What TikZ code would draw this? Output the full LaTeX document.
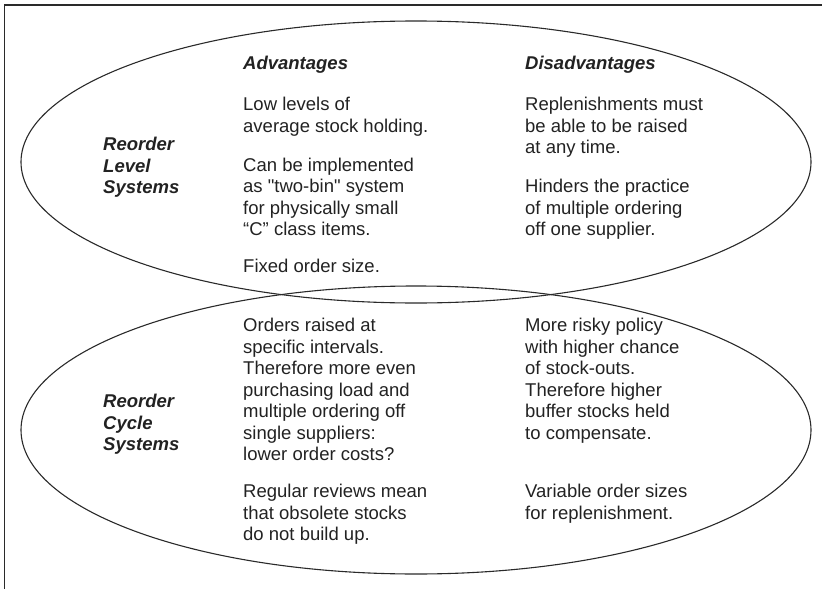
\documentclass[tikz,border=0pt]{standalone}
\usepackage{fontspec}
\setmainfont{Liberation Sans}[Ligatures=TeXOff]
\usetikzlibrary{shapes.geometric}
\definecolor{ink}{HTML}{222222}
\definecolor{linec}{HTML}{2A2A2A}
\newcommand{\mystrut}{\rule{0pt}{17pt}}
\tikzset{
  body/.style={anchor=north west, inner sep=0pt, align=left, text=ink,
    font=\fontsize{18.5}{21.5}\selectfont},
  head/.style={body, font=\fontsize{18.5}{21.5}\selectfont\bfseries\itshape},
  side/.style={body, font=\fontsize{18.5}{21.5}\selectfont\bfseries\itshape},
  oval/.style={ellipse, draw=linec, line width=1.1pt, inner sep=0pt,
    minimum width=790pt, minimum height=282pt},
  frame/.style={draw=linec, line width=1.4pt}
}
\begin{document}
\begin{tikzpicture}[x=1pt,y=-1pt]
\useasboundingbox (0,0) rectangle (822,589);
\coordinate (fa) at (4.5,589);
\coordinate (fb) at (4.5,5);
\coordinate (fc) at (822,5);
\draw[frame] (fa) -- (fb) -- (fc);
\node[oval] (top) at (416,162) {};
\node[oval, minimum height=288pt] (bot) at (416,430) {};
% headings
\node[head] (adv) at (243,52.5) {\mystrut Advantages};
\node[head] (dis) at (525,52.5) {\mystrut Disadvantages};
% side labels
\node[side] (rl) at (103,133.5) {\mystrut Reorder\\Level\\Systems};
\node[side] (rc) at (103,390.5) {\mystrut Reorder\\Cycle\\Systems};
% upper ellipse
\node[body] (a1) at (243,93.5) {\mystrut Low levels of\\average stock holding.};
\node[body] (a2) at (243,154) {\mystrut Can be implemented\\as "two-bin" system\\for physically small\\“C” class items.};
\node[body] (a3) at (243,255.5) {\mystrut Fixed order size.};
\node[body] (d1) at (525,93.5) {\mystrut Replenishments must\\be able to be raised\\at any time.};
\node[body] (d2) at (525,175.5) {\mystrut Hinders the practice\\of multiple ordering\\off one supplier.};
% lower ellipse
\node[body] (a4) at (243,314.5) {\mystrut Orders raised at\\specific intervals.\\Therefore more even\\purchasing load and\\multiple ordering off\\single suppliers:\\lower order costs?};
\node[body] (a5) at (243,480.5) {\mystrut Regular reviews mean\\that obsolete stocks\\do not build up.};
\node[body] (d3) at (525,314.5) {\mystrut More risky policy\\with higher chance\\of stock-outs.\\Therefore higher\\buffer stocks held\\to compensate.};
\node[body] (d4) at (525,480.5) {\mystrut Variable order sizes\\for replenishment.};
\end{tikzpicture}
\end{document}
